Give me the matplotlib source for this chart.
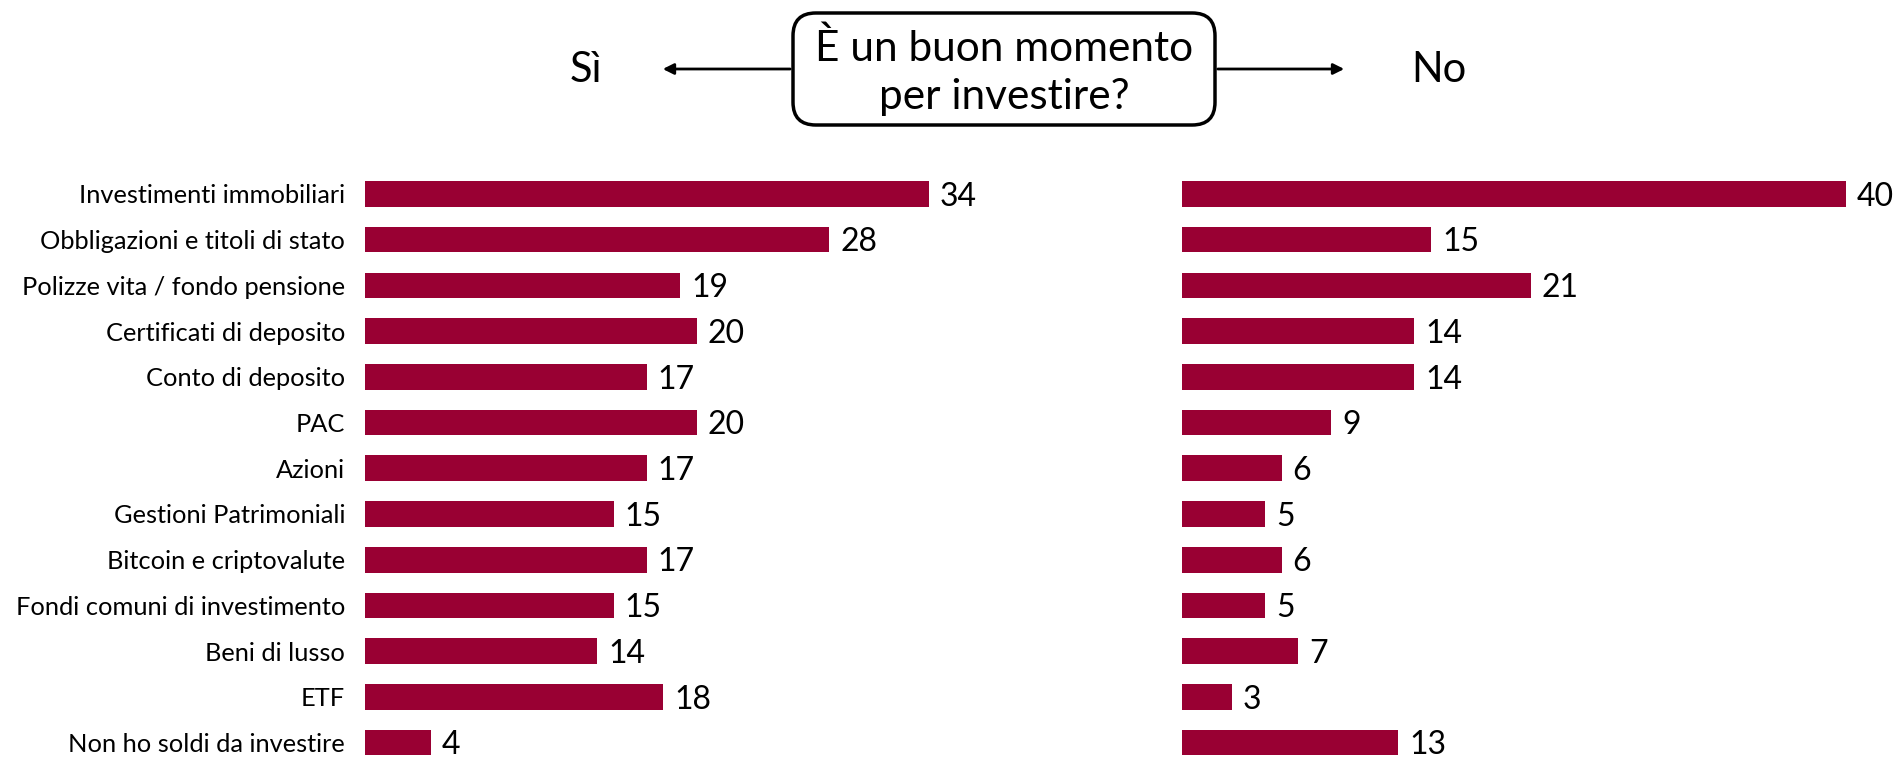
import matplotlib.pyplot as plt
from matplotlib.patches import FancyBboxPatch, FancyArrowPatch

plt.rcParams['font.family'] = ['Lato', 'DejaVu Sans']

categories = ["Investimenti immobiliari", "Obbligazioni e titoli di stato",
              "Polizze vita / fondo pensione", "Certificati di deposito",
              "Conto di deposito", "PAC", "Azioni", "Gestioni Patrimoniali",
              "Bitcoin e criptovalute", "Fondi comuni di investimento",
              "Beni di lusso", "ETF", "Non ho soldi da investire"]
si_values = [34, 28, 19, 20, 17, 20, 17, 15, 17, 15, 14, 18, 4]
no_values = [40, 15, 21, 14, 14, 9, 6, 5, 6, 5, 7, 3, 13]

bar_color = "#990033"
W, H = 1899, 757

fig = plt.figure(figsize=(W / 100, H / 100), dpi=100)

# axes placed in pixel units (from top of figure)
top_px = 171.0
bot_px = 765.5
ax_h = (bot_px - top_px) / H
ax_b = 1 - bot_px / H
ax_w = 664 / W

ax_l = fig.add_axes([364.5 / W, ax_b, ax_w, ax_h])
ax_r = fig.add_axes([1182 / W, ax_b, ax_w, ax_h])

y = list(range(len(categories)))
for ax, vals in [(ax_l, si_values), (ax_r, no_values)]:
    ax.barh(y, vals, height=0.56, color=bar_color)
    ax.set_xlim(0, 40)
    ax.set_ylim(len(categories) - 0.5, -0.5)
    for s in ax.spines.values():
        s.set_visible(False)
    ax.set_xticks([])
    for yi, v in zip(y, vals):
        ax.annotate(str(v), (v, yi), xytext=(8, -2), textcoords="offset points",
                    ha="left", va="center", fontsize=23, annotation_clip=False)

ax_l.set_yticks(y)
ax_l.set_yticklabels(categories, fontsize=18.3)
ax_l.tick_params(axis="y", length=0, pad=14)
ax_r.set_yticks([])

# header
def fx(px):
    return px / W

def fy(py):
    return 1 - py / H

box = FancyBboxPatch((fx(793), fy(125)), fx(1215) - fx(793), fy(13) - fy(125),
                     boxstyle="round,pad=0,rounding_size=0.012",
                     transform=fig.transFigure, facecolor="white",
                     edgecolor="black", linewidth=2.5, mutation_aspect=W / H)
fig.add_artist(box)
fig.text(fx(1004), fy(48), "È un buon momento", ha="center", va="center", fontsize=30.5)
fig.text(fx(1004), fy(97), "per investire?", ha="center", va="center", fontsize=30.5)

for x0, x1 in [(793, 660), (1215, 1347)]:
    arr = FancyArrowPatch((fx(x0), fy(69)), (fx(x1), fy(69)),
                          transform=fig.transFigure, arrowstyle="-|>",
                          mutation_scale=16, linewidth=2, color="black")
    fig.add_artist(arr)

fig.text(fx(586), fy(70), "Sì", ha="center", va="center", fontsize=30)
fig.text(fx(1439), fy(70), "No", ha="center", va="center", fontsize=30)

fig.savefig("out.png", dpi=100)
